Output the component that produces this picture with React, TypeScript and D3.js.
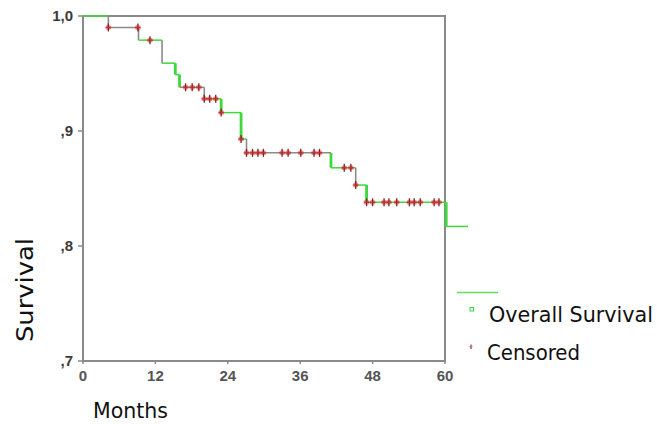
import React from "react";
import * as d3 from "d3";

// ---- data ----
const xTicks = [0, 12, 24, 36, 48, 60];
const yTicks = [0.7, 0.8, 0.9, 1.0];
const yTickLabels = [",7", ",8", ",9", "1,0"];
const stepTimes = [4.2, 9.2, 13.1, 15.3, 16.0, 20.1, 22.9, 26.2, 27.1, 41.1, 45.2, 47.0, 60.2];
const stepSurvival = [0.99, 0.979, 0.959, 0.949, 0.938, 0.928, 0.916, 0.893, 0.881, 0.868, 0.853, 0.838, 0.817];
const lastTime = 63.8;
const censorTimes = [
  4.2, 9.1, 11.1, 17.0, 18.1, 19.2, 20.1, 21.0, 22.0, 22.9, 26.2, 27.1, 28.1, 29.0, 29.9,
  33.0, 34.0, 36.1, 38.3, 39.2, 43.3, 44.4, 45.2, 47.0, 48.0, 49.9, 50.7, 52.0, 54.1,
  54.9, 55.9, 58.2, 59.0,
];
const legendLabels = ["Overall Survival", "Censored"];

// ---- styling ----
const GREEN = "#3cd83c";
const GRAY = "#8a8a8a";
const grayDrops = new Set([0, 1, 2, 5, 8, 10]);
const grayFlats = new Set([1, 5, 9]);

const W = 657;
const H = 424;
const left = 83, right = 445, top = 16, bottom = 361;

function survivalAt(t: number) {
  let s = 1.0;
  for (let i = 0; i < stepTimes.length; i++) if (t >= stepTimes[i] - 1e-9) s = stepSurvival[i];
  return s;
}

export default function App() {
  const x = d3.scaleLinear().domain([0, 60]).range([left, right]);
  const y = d3.scaleLinear().domain([0.7, 1.0]).range([bottom, top]);

  const segs: { x1: number; y1: number; x2: number; y2: number; c: string; w: number }[] = [];
  let prevT = 0, prevS = 1.0;
  stepTimes.forEach((t, i) => {
    segs.push({ x1: x(prevT), y1: y(prevS), x2: x(t), y2: y(prevS), c: grayFlats.has(i) ? GRAY : GREEN, w: 1.5 });
    segs.push({
      x1: x(t), y1: y(prevS), x2: x(t), y2: y(stepSurvival[i]),
      c: grayDrops.has(i) ? GRAY : GREEN, w: grayDrops.has(i) ? 1.6 : 2.8,
    });
    prevT = t;
    prevS = stepSurvival[i];
  });
  segs.push({ x1: x(prevT), y1: y(prevS), x2: x(lastTime), y2: y(prevS), c: GREEN, w: 1.5 });

  const sans = "'DejaVu Sans', Verdana, sans-serif";
  const arial = "'Liberation Sans', Arial, sans-serif";

  return (
    <svg width={W} height={H} style={{ position: "absolute", left: 0, top: 0, background: "#fff" }}>
      {/* frame */}
      <rect x={left} y={top} width={right - left} height={bottom - top} fill="none" stroke={GRAY} strokeWidth={2} />
      {/* y ticks */}
      {yTicks.map((v, i) => (
        <g key={"y" + i}>
          <line x1={left - 5} x2={left} y1={y(v)} y2={y(v)} stroke={GRAY} strokeWidth={1.5} />
          <text x={left - 10} y={y(v)} dy="0.35em" textAnchor="end" fontFamily={arial} fontSize={15}
            fontWeight="bold" fill="#3a3a3a">{yTickLabels[i]}</text>
        </g>
      ))}
      {/* x ticks */}
      {xTicks.map((v) => (
        <g key={"x" + v}>
          <line x1={x(v)} x2={x(v)} y1={bottom} y2={bottom + 3} stroke={GRAY} strokeWidth={1.5} />
          <text x={x(v)} y={bottom + 20} textAnchor="middle" fontFamily={arial} fontSize={15}
            fontWeight="bold" fill="#555">{v}</text>
        </g>
      ))}
      {/* curve */}
      {segs.map((s, i) => (
        <line key={"s" + i} x1={s.x1} y1={s.y1} x2={s.x2} y2={s.y2} stroke={s.c} strokeWidth={s.w} />
      ))}
      {/* censor marks */}
      {censorTimes.map((t, i) => {
        const cx = x(t), cy = y(survivalAt(t));
        return (
          <g key={"c" + i}>
            <ellipse cx={cx} cy={cy} rx={3} ry={2.5} fill="rgba(240,60,60,0.6)" />
            <line x1={cx} x2={cx} y1={cy - 4} y2={cy + 4} stroke="#7a2626" strokeWidth={1.3} />
            <line x1={cx - 2.5} x2={cx + 2.5} y1={cy} y2={cy} stroke="#c03030" strokeWidth={1.2} />
          </g>
        );
      })}
      {/* axis titles */}
      <text x={93} y={418} fontFamily={sans} fontSize={21} textLength={75} lengthAdjust="spacingAndGlyphs"
        fill="#111">Months</text>
      <text transform="translate(33,290) rotate(-90)" textAnchor="middle" fontFamily={sans} fontSize={23}
        textLength={104} lengthAdjust="spacingAndGlyphs" fill="#111">Survival</text>
      {/* legend */}
      <line x1={457} x2={498} y1={292.5} y2={292.5} stroke={GREEN} strokeWidth={1.5} opacity={0.8} />
      <rect x={470} y={307.5} width={3.5} height={3.5} fill="none" stroke={GREEN} strokeWidth={1} />
      <text x={489} y={322} fontFamily={sans} fontSize={21} textLength={164} lengthAdjust="spacingAndGlyphs"
        fill="#111">{legendLabels[0]}</text>
      <line x1={471} x2={471} y1={344.5} y2={349} stroke="#9a3a3a" strokeWidth={1.2} />
      <line x1={469.5} x2={472.5} y1={346.7} y2={346.7} stroke="#c06060" strokeWidth={1} />
      <text x={487} y={360} fontFamily={sans} fontSize={21} textLength={93} lengthAdjust="spacingAndGlyphs"
        fill="#111">{legendLabels[1]}</text>
    </svg>
  );
}
